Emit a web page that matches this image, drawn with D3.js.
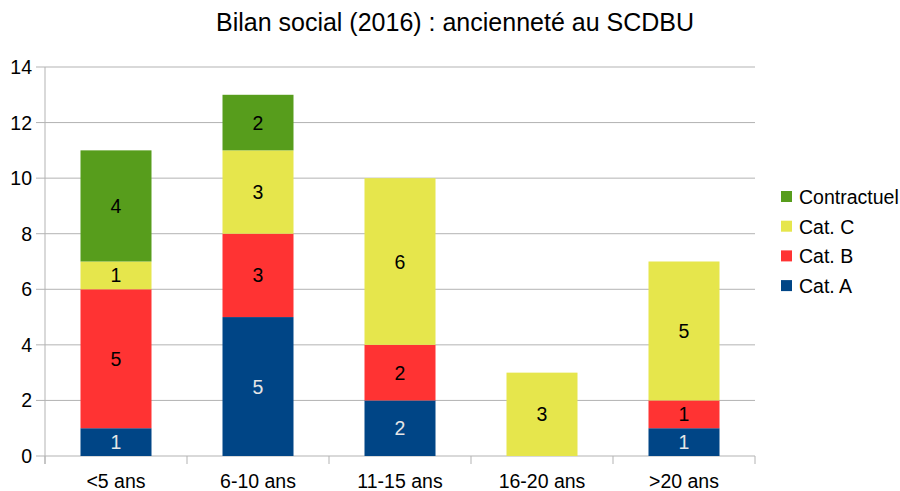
<!DOCTYPE html>
<html>
<head>
<meta charset="utf-8">
<script src="https://cdn.jsdelivr.net/npm/d3@7"></script>
<style>
body { margin: 0; background: #fff; }
text { font-family: "Liberation Sans", Arial, sans-serif; }
</style>
</head>
<body>
<div id="target"></div>
<script>
// data
let categories = ["<5 ans", "6-10 ans", "11-15 ans", "16-20 ans", ">20 ans"]
let catA = [1, 5, 2, 0, 1]
let catB = [5, 3, 2, 0, 1]
let catC = [1, 3, 6, 3, 5]
let contractuel = [4, 2, 0, 0, 0]
let seriesNames = ["Cat. A", "Cat. B", "Cat. C", "Contractuel"]
let yTicks = [0, 2, 4, 6, 8, 10, 12, 14]

let colors = ["#004586", "#ff3333", "#e6e64c", "#579d1c"]
let labelColors = ["#e6e6e6", "#000", "#000", "#000"]

let width = 900, height = 491
let margin = {left: 45, right: 145, top: 67, bottom: 35}
let fs = 19.5

let svg = d3.select("#target").append("svg")
    .attr("width", width).attr("height", height)

let x = d3.scaleBand().domain(categories).range([margin.left, width - margin.right]).paddingInner(0.5).paddingOuter(0.25)
let y = d3.scaleLinear().domain([0, 14]).range([height - margin.bottom, margin.top])

let table = categories.map((c, i) => ({cat: c, "Cat. A": catA[i], "Cat. B": catB[i], "Cat. C": catC[i], "Contractuel": contractuel[i]}))
let stacked = d3.stack().keys(seriesNames)(table)

// grid
svg.append("g").selectAll("line").data(yTicks).enter().append("line")
    .attr("x1", margin.left - 9).attr("x2", width - margin.right)
    .attr("y1", d => y(d)).attr("y2", d => y(d))
    .attr("stroke", "#b3b3b3").attr("stroke-width", 1)

svg.append("g").selectAll("text").data(yTicks).enter().append("text")
    .attr("x", margin.left - 13).attr("y", d => y(d) + 7)
    .attr("text-anchor", "end").attr("font-size", fs).attr("fill", "#000")
    .text(d => d)

// y axis line
svg.append("line").attr("x1", margin.left).attr("x2", margin.left)
    .attr("y1", y(14)).attr("y2", y(0) + 8).attr("stroke", "#b3b3b3")

// x ticks at category boundaries
let step = x.step()
let bounds = d3.range(categories.length + 1).map(i => margin.left + i * step)
svg.append("g").selectAll("line").data(bounds).enter().append("line")
    .attr("x1", d => d).attr("x2", d => d)
    .attr("y1", y(0)).attr("y2", y(0) + 8).attr("stroke", "#b3b3b3")

svg.append("g").selectAll("text").data(categories).enter().append("text")
    .attr("x", d => x(d) + x.bandwidth() / 2).attr("y", y(0) + 32)
    .attr("text-anchor", "middle").attr("font-size", fs).attr("fill", "#000")
    .text(d => d)

// bars
stacked.forEach((s, si) => {
    let g = svg.append("g")
    let segs = s.filter(d => d[1] - d[0] > 0)
    g.selectAll("rect").data(segs).enter().append("rect")
        .attr("x", d => x(d.data.cat)).attr("width", x.bandwidth())
        .attr("y", d => y(d[1])).attr("height", d => y(d[0]) - y(d[1]))
        .attr("fill", colors[si])
    g.selectAll("text").data(segs).enter().append("text")
        .attr("x", d => x(d.data.cat) + x.bandwidth() / 2)
        .attr("y", d => (y(d[0]) + y(d[1])) / 2 + 7)
        .attr("text-anchor", "middle").attr("font-size", fs)
        .attr("fill", labelColors[si])
        .text(d => d[1] - d[0])
})

// legend
let legendOrder = ["Contractuel", "Cat. C", "Cat. B", "Cat. A"]
let lg = svg.append("g").selectAll("g").data(legendOrder).enter().append("g")
    .attr("transform", (d, i) => `translate(781,${197 + i * 29.7})`)
lg.append("rect").attr("x", 0).attr("y", -6).attr("width", 11).attr("height", 11)
    .attr("fill", d => colors[seriesNames.indexOf(d)])
lg.append("text").attr("x", 18).attr("y", 7).attr("font-size", fs).attr("fill", "#000").text(d => d)

// title
svg.append("text").attr("x", 455).attr("y", 31).attr("text-anchor", "middle")
    .attr("font-size", 25).attr("fill", "#000")
    .text("Bilan social (2016) : ancienneté au SCDBU")
</script>
</body>
</html>
